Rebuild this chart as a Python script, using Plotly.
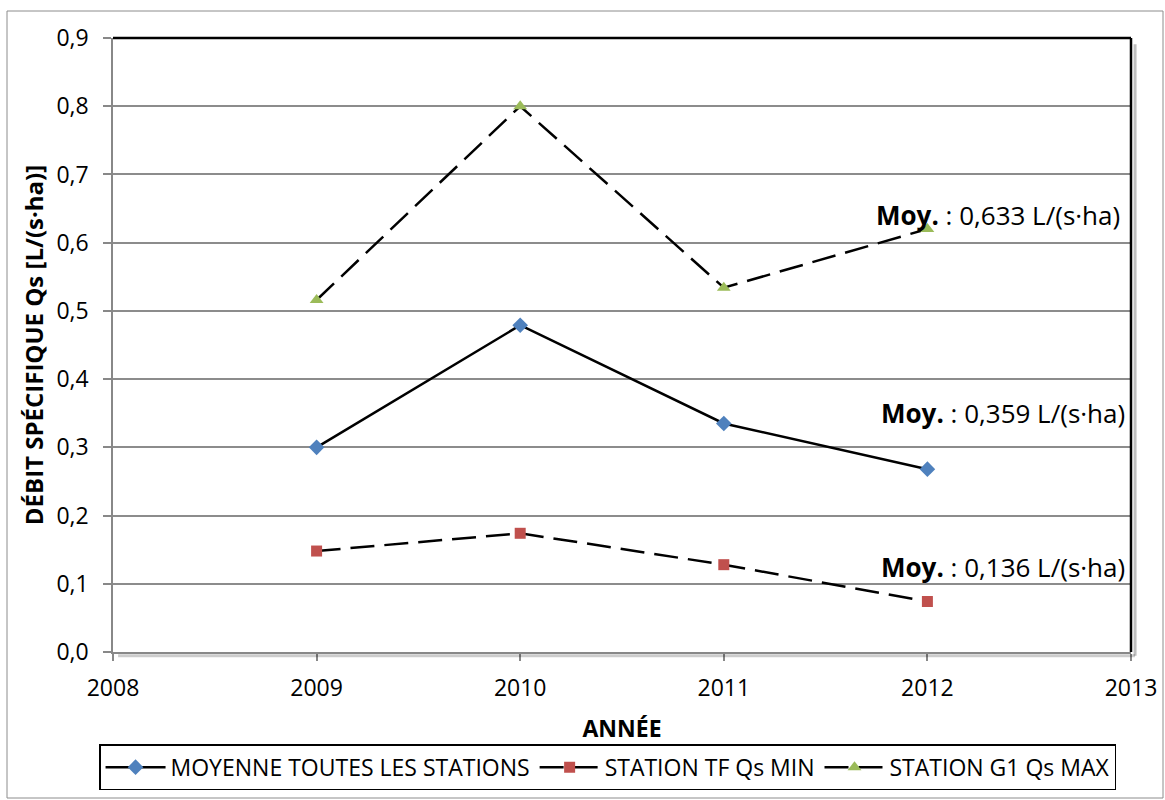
import plotly.graph_objects as go

years = [2009, 2010, 2011, 2012]
moyenne = [0.300, 0.479, 0.335, 0.268]
tf_min = [0.148, 0.174, 0.128, 0.074]
g1_max = [0.516, 0.800, 0.534, 0.620]
names = ["MOYENNE TOUTES LES STATIONS", "STATION TF Qs MIN", "STATION G1 Qs MAX"]
avg_labels = ["<b>Moy.</b> : 0,633 L/(s·ha)", "<b>Moy.</b> : 0,359 L/(s·ha)", "<b>Moy.</b> : 0,136 L/(s·ha)"]
avg_label_x = [0.991, 0.996, 0.996]
avg_label_y = [0.640, 0.350, 0.124]

FONT = "Open Sans, sans-serif"

fig = go.Figure()
fig.add_trace(go.Scatter(x=years, y=moyenne, name=names[0], mode="lines+markers",
                         line=dict(color="black", width=2.5),
                         marker=dict(symbol="diamond", size=12, color="#4F81BD")))
fig.add_trace(go.Scatter(x=years, y=tf_min, name=names[1], mode="lines+markers",
                         line=dict(color="black", width=2.5, dash="24px,10px"),
                         marker=dict(symbol="square", size=11, color="#C0504D")))
fig.add_trace(go.Scatter(x=years, y=g1_max, name=names[2], mode="lines+markers",
                         line=dict(color="black", width=2.5, dash="24px,10px"),
                         marker=dict(symbol="triangle-up", size=12, color="#9BBB59")))

for txt, xx, yy in zip(avg_labels, avg_label_x, avg_label_y):
    fig.add_annotation(x=xx, xref="paper", y=yy, yref="y", text=txt, showarrow=False,
                       xanchor="right", yanchor="middle",
                       font=dict(family=FONT, size=26, color="black"))

# plot frame: top and right black, with shadow
fig.add_shape(type="line", xref="paper", yref="paper", x0=0, x1=1, y0=1, y1=1,
              line=dict(color="black", width=2.5))
fig.add_shape(type="line", xref="paper", yref="paper", x0=1, x1=1, y0=0, y1=1,
              line=dict(color="black", width=2.5))
fig.add_shape(type="line", xref="paper", yref="paper", x0=1.004, x1=1.004, y0=-0.006, y1=0.99,
              line=dict(color="rgba(0,0,0,0.25)", width=3))
fig.add_shape(type="line", xref="paper", yref="paper", x0=0.005, x1=1.004, y0=-0.006, y1=-0.006,
              line=dict(color="rgba(0,0,0,0.2)", width=3))
# outer chart border
fig.add_shape(type="rect", xref="paper", yref="paper",
              x0=(7 - 113) / 1018, x1=(1163 - 113) / 1018,
              y0=(652 - 798) / 614, y1=(652 - 11) / 614,
              line=dict(color="#8c8c8c", width=1), layer="below")

fig.update_layout(
    width=1165, height=800,
    margin=dict(l=113, r=34, t=38, b=148, autoexpand=False),
    paper_bgcolor="white", plot_bgcolor="white",
    separators=", ",
    font=dict(family=FONT, size=23, color="black"),
    showlegend=True,
    legend=dict(orientation="h", x=0.5215, xanchor="center", y=0.041, yanchor="middle",
                xref="container", yref="container",
                bordercolor="black", borderwidth=1.5, font=dict(family=FONT, size=23),
                itemwidth=60, tracegroupgap=0),
    xaxis=dict(range=[2008, 2013], dtick=1, tick0=2008, showgrid=False, automargin=True,
               showline=True, linecolor="#888888", linewidth=1.5,
               ticks="outside", ticklen=7, tickcolor="#888888", tickwidth=1.5,
               ticklabelstandoff=8,
               tickfont=dict(family=FONT, size=23), zeroline=False,
               title=dict(text="<b>ANNÉE</b>", font=dict(family=FONT, size=23), standoff=20)),
    yaxis=dict(range=[0, 0.9], dtick=0.1, tickformat=".1f", showgrid=True, automargin=True,
               gridcolor="#8c8c8c", gridwidth=1.5,
               showline=True, linecolor="#888888", linewidth=1.5,
               ticks="outside", ticklen=8, tickcolor="#888888", tickwidth=1.5,
               ticklabelstandoff=10,
               tickfont=dict(family=FONT, size=23), zeroline=False,
               title=dict(text="<b>DÉBIT SPÉCIFIQUE Qs [L/(s·ha)]</b>", font=dict(family=FONT, size=24), standoff=6)),
)

fig.write_html("out.html", config={"displayModeBar": False},
               post_script="document.body.style.margin='0';document.body.style.padding='0';")
